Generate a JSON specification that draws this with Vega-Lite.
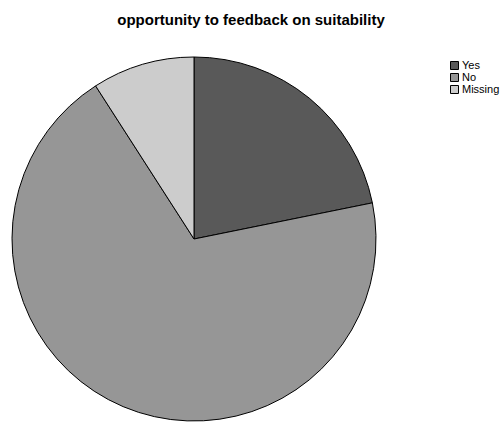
{
  "$schema": "https://vega.github.io/schema/vega-lite/v6.json",
  "autosize": {"type": "none"},
  "padding": {"left": 2, "top": 57, "right": 116, "bottom": 5},
  "width": 384,
  "height": 364,
  "background": "white",
  "title": {
    "text": "opportunity to feedback on suitability",
    "font": "Liberation Sans",
    "fontSize": 15,
    "fontWeight": "bold",
    "color": "black",
    "anchor": "middle",
    "dx": 57,
    "offset": 27
  },
  "data": {
    "values": [
      {"answer": "Yes", "count": 12, "rank": 1},
      {"answer": "No", "count": 38, "rank": 2},
      {"answer": "Missing", "count": 5, "rank": 3}
    ]
  },
  "view": {"stroke": null},
  "mark": {"type": "arc", "outerRadius": 182, "stroke": "black", "strokeWidth": 1},
  "encoding": {
    "theta": {"field": "count", "type": "quantitative", "stack": true},
    "order": {"field": "rank", "type": "quantitative", "sort": "ascending"},
    "color": {
      "field": "answer",
      "type": "nominal",
      "sort": ["Yes", "No", "Missing"],
      "scale": {"domain": ["Yes", "No", "Missing"], "range": ["#595959", "#969696", "#cccccc"]},
      "legend": {
        "title": null,
        "orient": "right",
        "offset": 60,
        "padding": 3,
        "symbolType": "square",
        "symbolSize": 64,
        "symbolStrokeColor": "black",
        "symbolStrokeWidth": 1,
        "labelFont": "Liberation Sans",
        "labelFontSize": 11,
        "labelColor": "black",
        "labelOffset": 2,
        "rowPadding": -3
      }
    }
  }
}
